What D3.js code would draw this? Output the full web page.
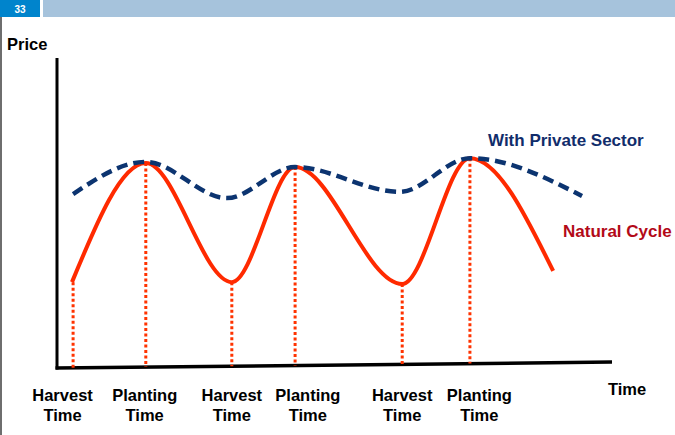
<!DOCTYPE html>
<html>
<head>
<meta charset="utf-8">
<script src="https://cdn.jsdelivr.net/npm/d3@7"></script>
<style>
  html, body { margin: 0; padding: 0; background: #fff; }
  svg { display: block; }
  text { font-family: "Liberation Sans", Arial, Helvetica, sans-serif; font-weight: bold; }
</style>
</head>
<body>
<svg id="chart" width="675" height="435"></svg>
<script>
// ---- data (time in arbitrary units 0..100, price in arbitrary units 0..100) ----
const slideNumber = "33";
const naturalTime  = [2.7, 16.0, 31.5, 42.9, 62.2, 74.4, 89.4];
const naturalPrice = [27.7, 66.1, 27.7, 64.8, 27.1, 67.7, 31.3];
const privateTime  = [2.9, 16.0, 30.6, 42.9, 61.8, 74.4, 94.6];
const privatePrice = [56.1, 66.5, 54.8, 64.8, 56.8, 67.7, 55.5];
const eventNames   = ["Harvest", "Planting", "Harvest", "Planting", "Harvest", "Planting"];
const eventTime    = [2.9, 16.0, 31.5, 42.9, 62.2, 74.4];
const eventPrice   = [27.7, 66.1, 27.7, 64.8, 27.1, 67.7];
const eventLabelTime = [1.0, 15.8, 31.5, 45.2, 62.2, 76.1];
const axisEndRise  = 1.9;   // x-axis drawn slightly rising to the right
const yAxisLabel = "Price";
const xAxisLabel = "Time";
const seriesNames = ["With Private Sector", "Natural Cycle"];

const svg = d3.select("#chart");
const W = 675, H = 435;

// header
svg.append("rect").attr("x", 0).attr("y", 0).attr("width", 40).attr("height", 17).attr("fill", "#0084cc");
svg.append("rect").attr("x", 43).attr("y", 0).attr("width", W - 43).attr("height", 17).attr("fill", "#a6c3dc");
svg.append("text").attr("x", 20).attr("y", 12.5).attr("text-anchor", "middle")
  .attr("fill", "#fff").attr("font-size", 10).text(slideNumber);
// left border line
svg.append("rect").attr("x", 0).attr("y", 17).attr("width", 2).attr("height", H - 17).attr("fill", "#6e6e6e");

// scales
const x = d3.scaleLinear().domain([0, 100]).range([57, 612]);
const y = d3.scaleLinear().domain([0, 100]).range([368, 58]);
const axisY = t => y(axisEndRise * t / 100);

// axes
svg.append("line").attr("x1", x(0)).attr("x2", x(0)).attr("y1", y(100)).attr("y2", y(0) + 1.5)
  .attr("stroke", "#000").attr("stroke-width", 3);
svg.append("line").attr("x1", x(0) - 1.5).attr("x2", x(100)).attr("y1", y(0)).attr("y2", axisY(100))
  .attr("stroke", "#000").attr("stroke-width", 3.5);

// dotted event lines
eventTime.forEach((t, i) => {
  svg.append("line")
    .attr("x1", x(t)).attr("x2", x(t))
    .attr("y1", y(eventPrice[i])).attr("y2", axisY(t))
    .attr("stroke", "#ff3300").attr("stroke-width", 3)
    .attr("stroke-dasharray", "3,2.5");
});

const line = d3.line().x(d => x(d[0])).y(d => y(d[1])).curve(d3.curveMonotoneX);

// natural cycle
svg.append("path")
  .attr("d", line(naturalTime.map((t, i) => [t, naturalPrice[i]])))
  .attr("fill", "none").attr("stroke", "#ff2a00").attr("stroke-width", 4);

// private sector
svg.append("path")
  .attr("d", line(privateTime.map((t, i) => [t, privatePrice[i]])))
  .attr("fill", "none").attr("stroke", "#0c3470").attr("stroke-width", 4.5)
  .attr("stroke-dasharray", "11,6");

// labels
svg.append("text").attr("x", 7).attr("y", 50).attr("font-size", 16.5).attr("fill", "#000").text(yAxisLabel);
svg.append("text").attr("x", 627).attr("y", 395).attr("text-anchor", "middle")
  .attr("font-size", 16.5).attr("fill", "#000").text(xAxisLabel);

eventNames.forEach((n, i) => {
  const tx = svg.append("text").attr("text-anchor", "middle").attr("font-size", 16.5).attr("fill", "#000");
  tx.append("tspan").attr("x", x(eventLabelTime[i])).attr("y", 401).text(n);
  tx.append("tspan").attr("x", x(eventLabelTime[i])).attr("y", 421).text("Time");
});

svg.append("text").attr("x", 488).attr("y", 146).attr("font-size", 17).attr("fill", "#112d6b").text(seriesNames[0]);
svg.append("text").attr("x", 563).attr("y", 237).attr("font-size", 17).attr("fill", "#b30a18").text(seriesNames[1]);
</script>
</body>
</html>
